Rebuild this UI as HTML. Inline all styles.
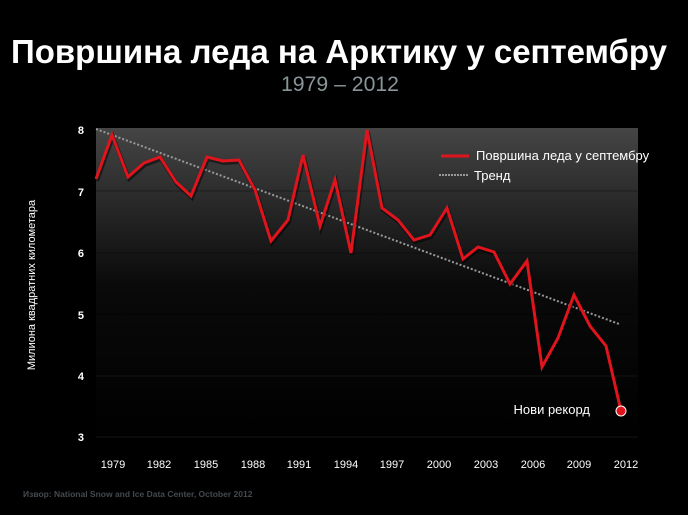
<!DOCTYPE html>
<html><head><meta charset="utf-8"><style>
html,body{margin:0;padding:0;background:#000;}
svg{display:block;}
</style></head><body>
<svg width="688" height="515" viewBox="0 0 688 515" xmlns="http://www.w3.org/2000/svg" font-family="Liberation Sans, sans-serif">
<defs>
<linearGradient id="bg" x1="0" y1="0" x2="0" y2="1">
<stop offset="0" stop-color="#454545"/>
<stop offset="0.5" stop-color="#0a0a0a"/>
<stop offset="1" stop-color="#000"/>
</linearGradient>
</defs>
<rect width="688" height="515" fill="#000"/>
<text x="339" y="63" fill="#fff" font-weight="bold" font-size="33" text-anchor="middle" textLength="656" lengthAdjust="spacingAndGlyphs">Површина леда на Арктику у септембру</text>
<text x="340" y="91" fill="#8a9599" font-size="21" text-anchor="middle" textLength="118" lengthAdjust="spacingAndGlyphs">1979 – 2012</text>
<rect x="96" y="128" width="542" height="312" fill="url(#bg)"/>
<g stroke="#000" stroke-opacity="0.35" stroke-width="1">
<line x1="96" y1="191" x2="638" y2="191"/><line x1="96" y1="253" x2="638" y2="253"/>
<line x1="96" y1="314" x2="638" y2="314"/>
</g>
<g stroke="#151515" stroke-width="1">
<line x1="96" y1="376" x2="638" y2="376"/>
<line x1="96" y1="437" x2="638" y2="437"/>
</g>
<g fill="#fff" font-size="11" font-weight="bold" text-anchor="end">
<text x="84" y="134">8</text><text x="84" y="196">7</text><text x="84" y="257">6</text>
<text x="84" y="319">5</text><text x="84" y="380">4</text><text x="84" y="441">3</text>
</g>
<g fill="#fff" font-size="11" text-anchor="middle">
<text x="113" y="468">1979</text><text x="159" y="468">1982</text><text x="206" y="468">1985</text>
<text x="253" y="468">1988</text><text x="299" y="468">1991</text><text x="346" y="468">1994</text>
<text x="392" y="468">1997</text><text x="439" y="468">2000</text><text x="486" y="468">2003</text>
<text x="533" y="468">2006</text><text x="579" y="468">2009</text><text x="626" y="468">2012</text>
</g>
<text transform="translate(35,285) rotate(-90)" fill="#fff" font-size="11" text-anchor="middle">Милиона квадратних километара</text>
<text x="23" y="497" fill="#454a4f" font-size="8.5" font-weight="bold">Извор: National Snow and Ice Data Center, October 2012</text>
<line x1="96" y1="129" x2="619" y2="324" stroke="#999" stroke-width="2" stroke-dasharray="2,2"/>
<polyline fill="none" stroke="#000" stroke-opacity="0.5" stroke-width="4" transform="translate(1,2)" points="96,179 112,135 128,177 144,163 160,157 176,182 191,196 207,157 223,161 239,160 255,190 271,241 288,220 303,155 320,226 335,180 351,253 367,130 382,208 398,220 414,240 430,235 447,208 463,259 478,247 494,252 510,284 527,261 542,367 558,338 574,295 590,326 606,346 621,411"/>
<polyline fill="none" stroke="#e0141c" stroke-width="3" points="96,179 112,135 128,177 144,163 160,157 176,182 191,196 207,157 223,161 239,160 255,190 271,241 288,220 303,155 320,226 335,180 351,253 367,130 382,208 398,220 414,240 430,235 447,208 463,259 478,247 494,252 510,284 527,261 542,367 558,338 574,295 590,326 606,346 621,411"/>
<circle cx="621" cy="411" r="5" fill="#e0141c" stroke="#fff" stroke-width="1"/>
<text x="590" y="414" fill="#fff" font-size="13" text-anchor="end">Нови рекорд</text>
<line x1="441" y1="156" x2="469" y2="156" stroke="#e0141c" stroke-width="3"/>
<text x="476" y="160" fill="#fff" font-size="13">Површина леда у септембру</text>
<line x1="439" y1="175" x2="468" y2="175" stroke="#999" stroke-width="2" stroke-dasharray="2,1"/>
<text x="474" y="180" fill="#fff" font-size="13">Тренд</text>
</svg>
</body></html>
